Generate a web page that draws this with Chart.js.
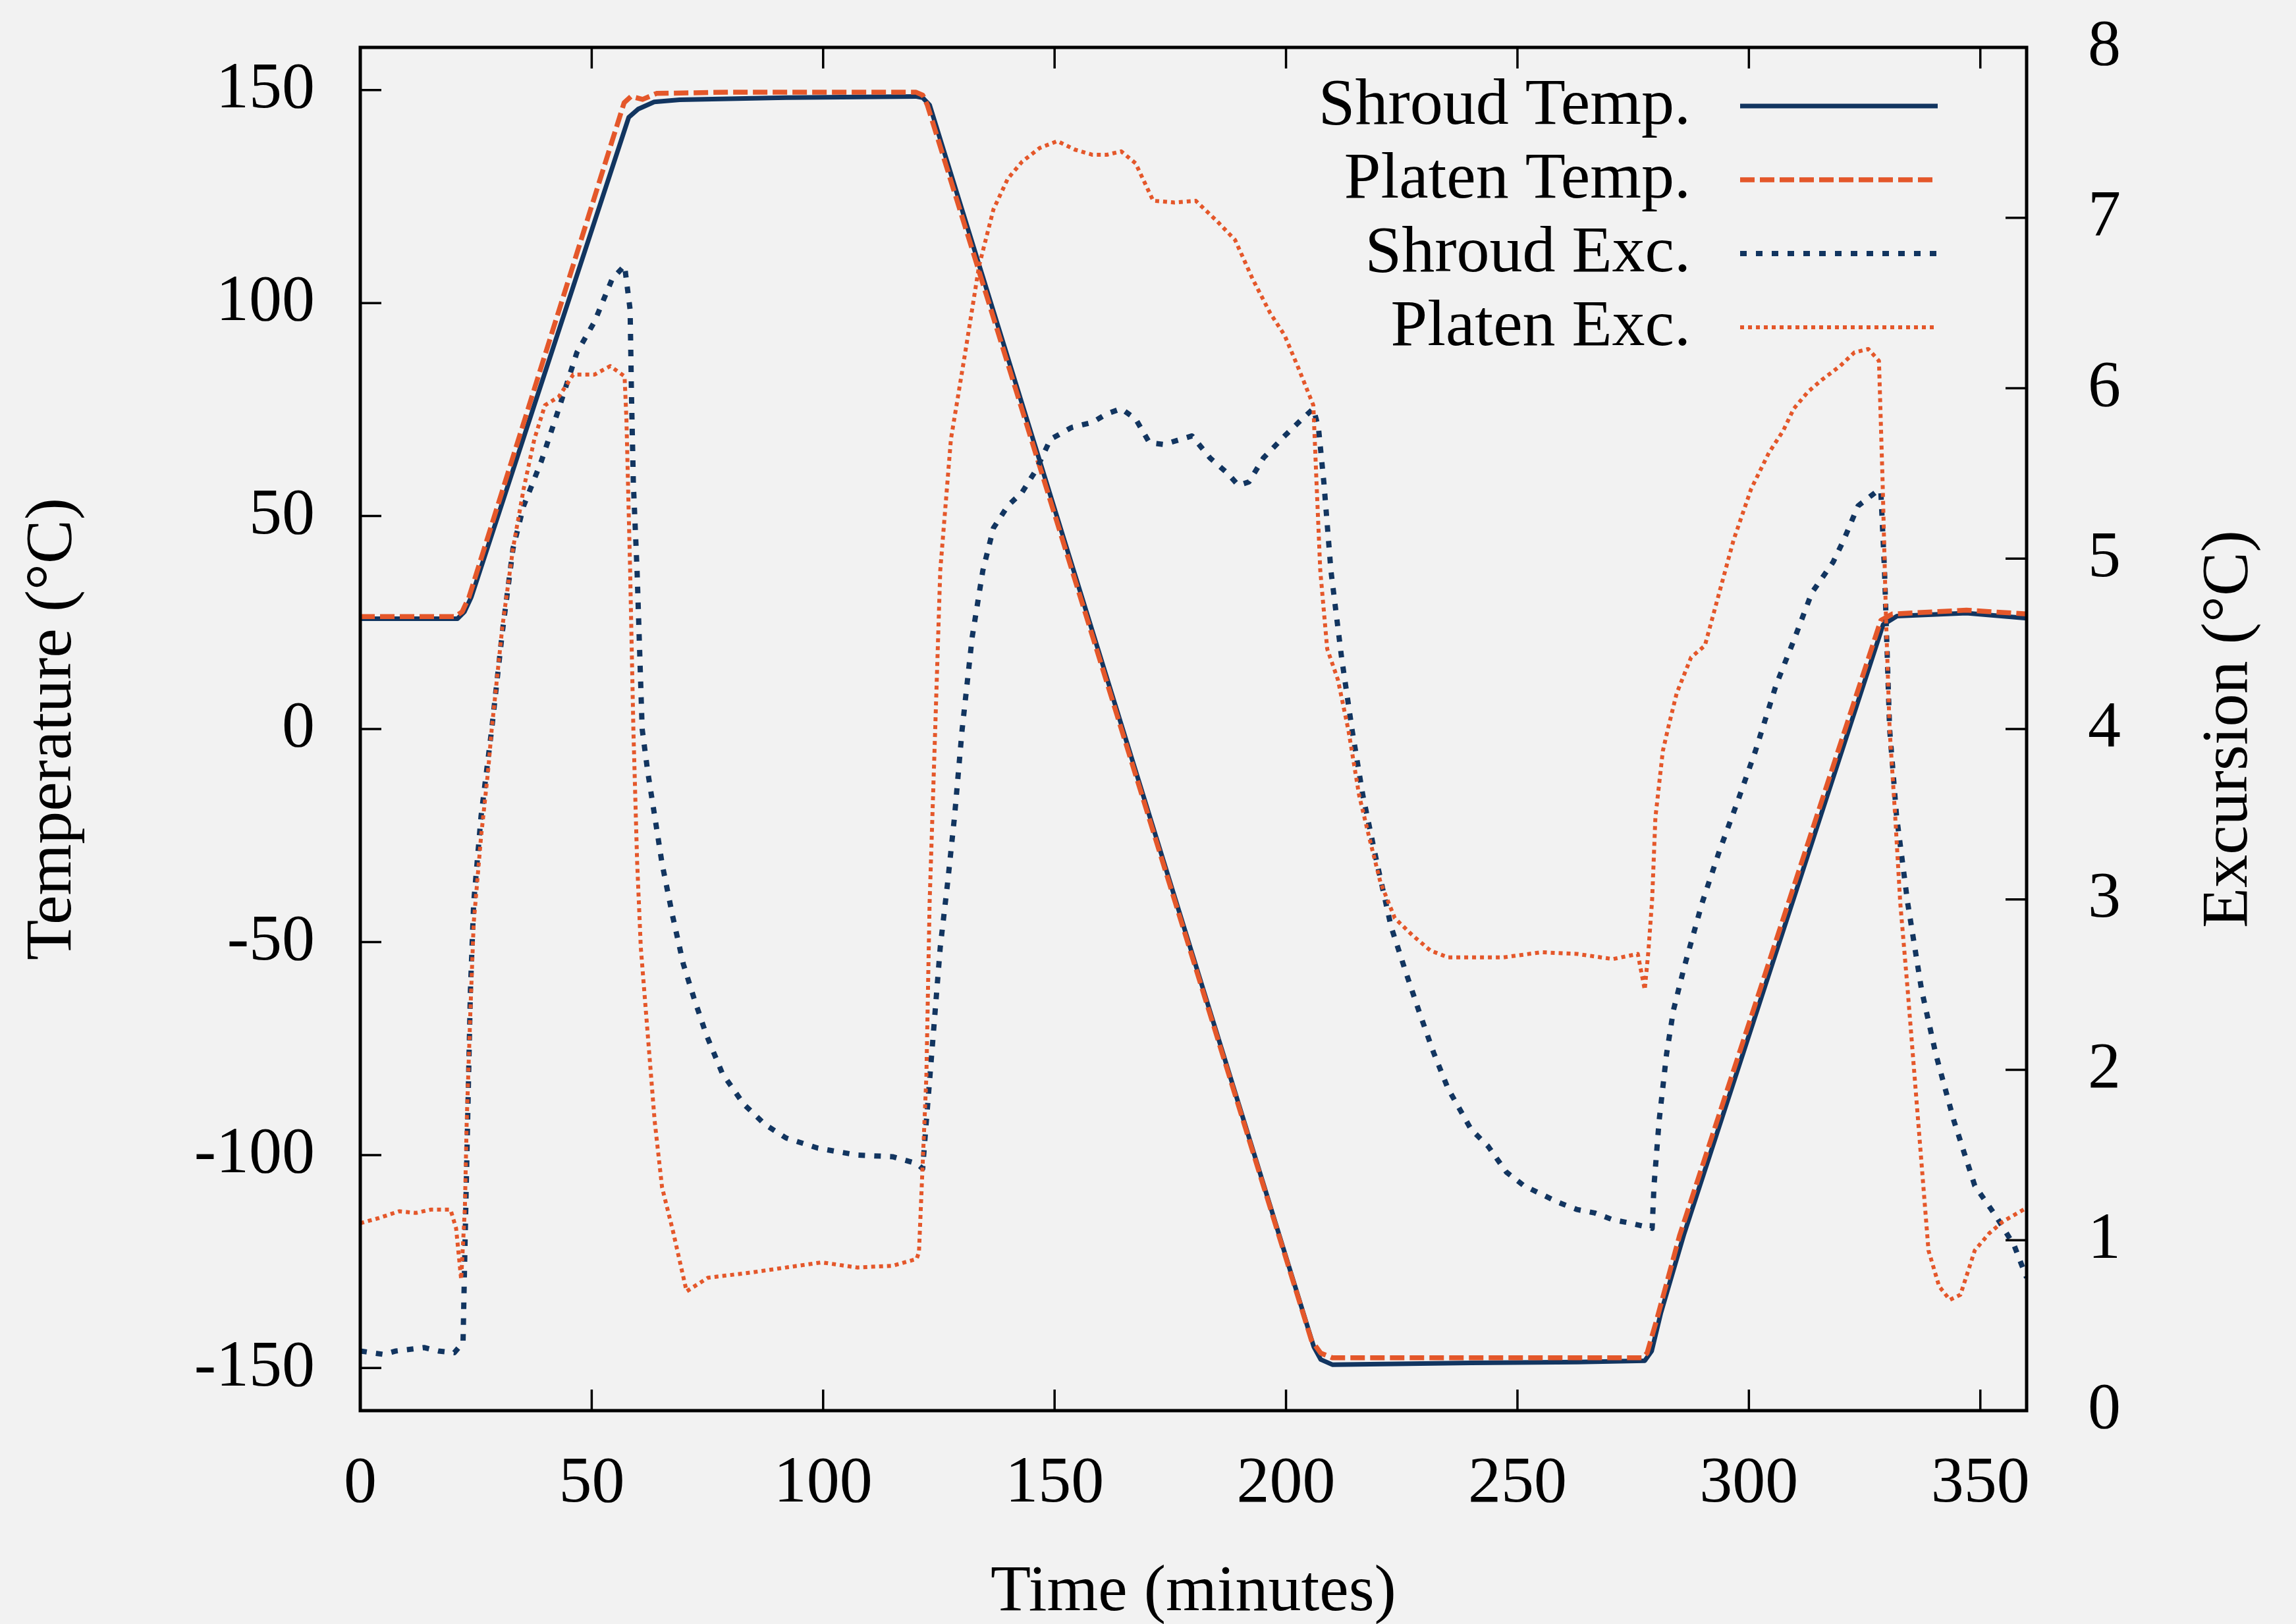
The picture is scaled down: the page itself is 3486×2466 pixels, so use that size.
<!DOCTYPE html>
<html lang="en">

<head>
    <meta charset="UTF-8">
    <title>Shroud and Platen Temperature</title>
    <script src="https://cdn.jsdelivr.net/npm/chart.js"></script>
    <style>
        body { margin: 0; background: #f2f2f2; }
        canvas { display: block; }
    </style>
</head>

<body>
    <canvas id="graficoTemp" width="3486" height="2466"></canvas>
</body>

<script>
    // values: [time (min), value]
    const shroudTemp = [
        [0, 25.9], [10, 25.9], [21, 25.9], [22.5, 27.5], [24, 31], [58, 143.6], [60, 145.5], [63.5, 147.2],
        [69, 147.7], [92, 148.2], [120, 148.5], [121.5, 148.2], [123, 146.5], [206, -145], [207.5, -148],
        [210, -149.2], [240, -148.8], [263, -148.6], [277.5, -148.3], [279, -146], [281, -137], [286, -118.5],
        [329, 24.5], [332, 26.5], [347, 27.2], [360, 26]
    ];

    const platenTemp = [
        [0, 26.4], [20.5, 26.4], [22, 27.5], [23.5, 31], [57, 147], [58.5, 148.5], [61, 147.8], [64, 149.2],
        [80, 149.5], [120, 149.5], [121.5, 148.8], [122.5, 146.5], [205.5, -143.5], [207.5, -146.5],
        [210, -147.6], [240, -147.6], [277, -147.6], [278, -146.5], [280, -139], [285, -119], [328.5, 25.5],
        [331, 27], [347, 27.9], [360, 27]
    ];

    const shroudExc = [
        [0, 0.35], [5, 0.33], [7.7, 0.35], [13.8, 0.37], [16.9, 0.35], [20.3, 0.34], [22.2, 0.40], [22.6, 0.94],
        [23, 1.45], [23.4, 1.96], [23.8, 2.47], [24.5, 2.98], [26.1, 3.49], [28.4, 4.0], [30.7, 4.57], [33, 5.06],
        [35.3, 5.31], [39.1, 5.57], [42.9, 5.88], [46.8, 6.21], [50.6, 6.39], [54.4, 6.64], [57.1, 6.72],
        [58.3, 6.46], [58.6, 5.95], [59, 5.44], [59.8, 4.93], [60.9, 4.0], [62.1, 3.75], [63.6, 3.49],
        [65.2, 3.21], [67.5, 2.9], [69.8, 2.62], [72.1, 2.42], [74.7, 2.21], [78.2, 1.98], [82.8, 1.80],
        [87.4, 1.68], [92, 1.6], [98.9, 1.54], [107.3, 1.5], [115, 1.49], [120.2, 1.45], [121.5, 1.42],
        [122.3, 1.70], [123.8, 2.21], [125.3, 2.72], [126.9, 3.10], [128.4, 3.49], [130, 3.99], [132.2, 4.54],
        [134.5, 4.93], [136.8, 5.18], [139.9, 5.31], [143, 5.39], [146, 5.52], [149.1, 5.70], [153.7, 5.77],
        [158.2, 5.80], [161.3, 5.85], [164.4, 5.88], [167.5, 5.82], [170.5, 5.68], [173.6, 5.67], [179.7, 5.72],
        [183.6, 5.59], [187.4, 5.50], [189.7, 5.43], [192, 5.45], [195.1, 5.59], [199.7, 5.72], [203.5, 5.82],
        [205.9, 5.88], [207, 5.77], [208.2, 5.44], [209.7, 4.93], [212, 4.42], [214.3, 3.99], [216.6, 3.61],
        [219.6, 3.22], [222.7, 2.84], [225.8, 2.58], [228.9, 2.33], [231.9, 2.10], [235, 1.89], [240, 1.65],
        [243.7, 1.55], [247.6, 1.40], [251.4, 1.32], [255.2, 1.27], [259, 1.22], [262.9, 1.18], [266.7, 1.16],
        [270.6, 1.12], [274.4, 1.10], [279.1, 1.07], [279.5, 1.32], [280.6, 1.70], [282.2, 2.09], [283.7, 2.35],
        [286, 2.60], [289.9, 2.98], [293.7, 3.29], [297.5, 3.57], [301.4, 3.87], [305.9, 4.26], [309.7, 4.52],
        [313.6, 4.80], [318.2, 4.98], [320.5, 5.11], [323.6, 5.31], [327.4, 5.39], [328.5, 5.40], [329.3, 4.93],
        [330.4, 4.0], [331.9, 3.49], [334.3, 2.98], [337.3, 2.47], [340.4, 2.09], [344.3, 1.70], [348.8, 1.32],
        [353.4, 1.14], [357.3, 0.97], [360, 0.78]
    ];

    const platenExc = [
        [0, 1.10], [4, 1.13], [8.4, 1.17], [12, 1.16], [15.3, 1.18], [19.5, 1.18], [20.7, 1.07], [21.8, 0.77],
        [22.6, 1.19], [23, 1.7], [23.8, 2.35], [24.5, 2.86], [26.1, 3.37], [27.6, 3.75], [28.4, 4.0], [30.7, 4.6],
        [33, 5.06], [35.3, 5.41], [37.6, 5.70], [39.9, 5.9], [42.9, 5.95], [46, 6.08], [50.6, 6.08], [54, 6.13],
        [57.1, 6.07], [57.5, 5.82], [58.3, 4.93], [59, 4.0], [59.8, 3.23], [60.6, 2.72], [62.1, 2.21],
        [63.6, 1.7], [65.2, 1.31], [67.5, 1.06], [70.5, 0.70], [75.1, 0.78], [84.3, 0.81], [92, 0.84],
        [99.7, 0.87], [107.3, 0.84], [115, 0.85], [120.2, 0.89], [120.7, 0.93], [122.3, 1.96], [123, 2.98],
        [124.2, 3.99], [125.3, 4.93], [127.6, 5.70], [130.7, 6.21], [133.7, 6.72], [136.8, 7.05], [139.9, 7.23],
        [143, 7.33], [146.8, 7.41], [150.6, 7.45], [154.4, 7.40], [158.2, 7.37], [161.3, 7.37], [164.4, 7.39],
        [167.5, 7.32], [171.3, 7.10], [175.9, 7.09], [180.5, 7.10], [185.1, 6.98], [189, 6.87], [192.8, 6.64],
        [196.6, 6.44], [199.7, 6.31], [202.8, 6.11], [205.9, 5.90], [206.6, 5.44], [207.4, 4.93], [208.9, 4.47],
        [211.2, 4.29], [213.5, 3.99], [215.8, 3.61], [218.1, 3.35], [220.4, 3.10], [223.5, 2.89], [227.3, 2.79],
        [231.2, 2.70], [235, 2.66], [240, 2.66], [247, 2.66], [255.2, 2.69], [262.9, 2.68], [270.6, 2.65],
        [276, 2.68], [277.5, 2.47], [278.3, 2.7], [279.1, 3.0], [279.8, 3.48], [281.4, 3.87], [282.5, 4.0],
        [284.4, 4.21], [287.5, 4.42], [290.5, 4.49], [293.6, 4.80], [296.7, 5.11], [300.5, 5.41], [304.3, 5.62],
        [307.4, 5.75], [309.7, 5.88], [312.8, 5.98], [315.8, 6.05], [319.7, 6.13], [322.8, 6.21], [325.8, 6.23],
        [328.1, 6.16], [328.9, 5.44], [329.6, 4.67], [330.4, 4.0], [331.6, 3.49], [332.7, 2.98], [334.3, 2.47],
        [335.8, 1.96], [337.3, 1.45], [338.8, 0.94], [341.1, 0.73], [343.4, 0.65], [345.7, 0.68], [348.8, 0.94],
        [351.9, 1.04], [354.9, 1.11], [360, 1.19]
    ];

    const seriesNames = ['Shroud Temp.', 'Platen Temp.', 'Shroud Exc.', 'Platen Exc.'];
    const timeTicks = [0, 50, 100, 150, 200, 250, 300, 350];
    const tempTicks = [-150, -100, -50, 0, 50, 100, 150];
    const excTicks = [0, 1, 2, 3, 4, 5, 6, 7, 8];

    const NAVY = '#123560';
    const ORANGE = '#e4572a';
    const FONT = "'Liberation Serif', 'Times New Roman', serif";
    const TICK = 32;

    function pontos(lista) {
        return lista.map(function (p) { return { x: p[0], y: p[1] }; });
    }

    // the axes must not push the plot box around
    function semPadding(axis) {
        axis.paddingTop = 0;
        axis.paddingBottom = 0;
        axis.paddingLeft = 0;
        axis.paddingRight = 0;
    }

    // gnuplot style box: full frame with inward ticks
    const moldura = {
        id: 'moldura',
        beforeDraw(chart) {
            const ctx = chart.ctx;
            ctx.save();
            ctx.fillStyle = '#f2f2f2';
            ctx.fillRect(0, 0, chart.width, chart.height);
            ctx.restore();
        },
        afterDatasetsDraw(chart) {
            const { ctx, chartArea: a, scales } = chart;
            ctx.save();
            ctx.strokeStyle = '#000';
            ctx.lineWidth = 3.5;
            ctx.beginPath();
            timeTicks.forEach(function (v) {
                const px = scales.x.getPixelForValue(v);
                ctx.moveTo(px, a.bottom); ctx.lineTo(px, a.bottom - TICK);
                ctx.moveTo(px, a.top); ctx.lineTo(px, a.top + TICK);
            });
            tempTicks.forEach(function (v) {
                const py = scales.y.getPixelForValue(v);
                ctx.moveTo(a.left, py); ctx.lineTo(a.left + TICK, py);
            });
            excTicks.forEach(function (v) {
                const py = scales.y2.getPixelForValue(v);
                ctx.moveTo(a.right, py); ctx.lineTo(a.right - TICK, py);
            });
            ctx.stroke();
            ctx.lineWidth = 5;
            ctx.strokeRect(a.left, a.top, a.right - a.left, a.bottom - a.top);
            ctx.restore();
        },
        afterDraw(chart) {
            const ctx = chart.ctx;
            ctx.save();
            ctx.fillStyle = '#000';
            ctx.font = '100px ' + FONT;

            // legend: text right aligned, sample line on the right
            chart.data.datasets.forEach(function (ds, i) {
                const y = 161 + i * 112;
                ctx.textAlign = 'right';
                ctx.textBaseline = 'alphabetic';
                ctx.fillText(ds.label, 2567, y + 27);
                ctx.beginPath();
                ctx.strokeStyle = ds.borderColor;
                ctx.lineWidth = ds.borderWidth;
                ctx.setLineDash(ds.borderDash || []);
                ctx.moveTo(2642, y);
                ctx.lineTo(2942, y);
                ctx.stroke();
            });
            ctx.setLineDash([]);

            // right axis title, same rotation as the left one
            ctx.translate(3385, (chart.chartArea.top + chart.chartArea.bottom) / 2);
            ctx.rotate(-Math.PI / 2);
            ctx.textAlign = 'center';
            ctx.textBaseline = 'middle';
            ctx.fillText('Excursion (°C)', 0, 0);
            ctx.restore();
        }
    };

    const config = {
        type: 'line',
        data: {
            datasets: [{
                label: seriesNames[0],
                data: pontos(shroudTemp),
                yAxisID: 'y',
                borderColor: NAVY,
                borderWidth: 7,
                order: 4
            }, {
                label: seriesNames[1],
                data: pontos(platenTemp),
                yAxisID: 'y',
                borderColor: ORANGE,
                borderWidth: 7.5,
                borderDash: [22, 8],
                order: 3
            }, {
                label: seriesNames[2],
                data: pontos(shroudExc),
                yAxisID: 'y2',
                borderColor: NAVY,
                borderWidth: 8,
                borderDash: [10, 14],
                order: 2
            }, {
                label: seriesNames[3],
                data: pontos(platenExc),
                yAxisID: 'y2',
                borderColor: ORANGE,
                borderWidth: 6,
                borderDash: [6, 6],
                order: 1
            }]
        },
        options: {
            responsive: false,
            animation: false,
            devicePixelRatio: 1,
            layout: { padding: { top: 72, left: 0, right: 0, bottom: 0 } },
            elements: {
                point: { radius: 0 },
                line: { tension: 0, borderCapStyle: 'butt', borderJoinStyle: 'round' }
            },
            plugins: {
                legend: { display: false },
                tooltip: { enabled: false }
            },
            scales: {
                x: {
                    type: 'linear',
                    min: 0,
                    max: 360,
                    afterBuildTicks: function (axis) { axis.ticks = timeTicks.map(function (v) { return { value: v }; }); },
                    afterFit: function (axis) { axis.height = 324; semPadding(axis); },
                    grid: { display: false, drawTicks: false },
                    border: { display: false },
                    ticks: {
                        autoSkip: false, maxRotation: 0, padding: 52, color: '#000',
                        font: { family: FONT, size: 100 },
                        callback: function (v) { return String(v); }
                    },
                    title: {
                        display: true, text: 'Time (minutes)', color: '#000',
                        font: { family: FONT, size: 100, lineHeight: 0.9 },
                        padding: { top: 0, bottom: 2 }
                    }
                },
                y: {
                    position: 'left',
                    min: -160,
                    max: 160,
                    afterBuildTicks: function (axis) { axis.ticks = tempTicks.map(function (v) { return { value: v }; }); },
                    afterFit: function (axis) { axis.width = 547; semPadding(axis); },
                    grid: { display: false, drawTicks: false },
                    border: { display: false },
                    ticks: {
                        autoSkip: false, padding: 69, color: '#000',
                        font: { family: FONT, size: 100 },
                        callback: function (v) { return String(v); }
                    },
                    title: {
                        display: true, text: 'Temperature (°C)', color: '#000',
                        font: { family: FONT, size: 100, lineHeight: 1 },
                        padding: { top: 31, bottom: 0 }
                    }
                },
                y2: {
                    position: 'right',
                    min: 0,
                    max: 8,
                    afterBuildTicks: function (axis) { axis.ticks = excTicks.map(function (v) { return { value: v }; }); },
                    afterFit: function (axis) { axis.width = 409; semPadding(axis); },
                    grid: { display: false, drawTicks: false },
                    border: { display: false },
                    ticks: {
                        autoSkip: false, padding: 93, color: '#000',
                        font: { family: FONT, size: 100 },
                        callback: function (v) { return String(v); }
                    }
                }
            }
        },
        plugins: [moldura]
    };

    new Chart(document.getElementById('graficoTemp'), config);
</script>

</html>
